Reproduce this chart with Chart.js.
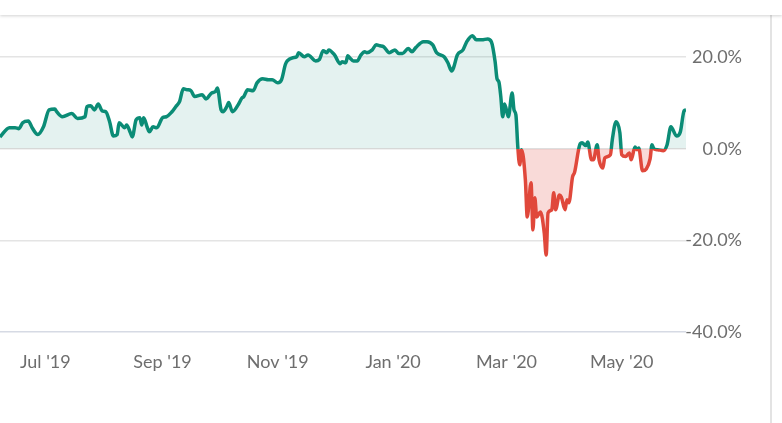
<!DOCTYPE html>
<html>
<head>
<meta charset="utf-8">
<script src="https://cdn.jsdelivr.net/npm/chart.js@4.4.0/dist/chart.umd.min.js"></script>
<style>
  html, body { margin: 0; padding: 0; background: #fff; }
  body { width: 782px; height: 423px; position: relative; overflow: hidden; }
  .cabecera { position: absolute; left: 0; top: 0; width: 782px; height: 15px; background: #fff;
              box-shadow: 0 1px 3px rgba(0,0,0,0.18); z-index: 2; }
  .borde { position: absolute; left: 770px; top: 0; width: 2px; height: 423px; background: #e3e3e3; }
  .grafico { position: absolute; left: 0; top: 0; width: 742px; height: 423px; }
</style>
</head>
<body>
<div class="cabecera"></div>
<div class="borde"></div>
<div class="grafico"><canvas id="myChart"></canvas></div>
<script>
// dias desde 2019-06-01
const dias = [
  6, 11, 14, 16, 18, 21, 23, 26, 29, 32,
  35, 36, 39, 44, 47, 51, 52, 54, 56, 58,
  60, 62, 64, 66, 68, 69, 72, 73, 75, 76,
  78, 80, 81, 82, 84, 85, 87, 89, 92, 94,
  97, 99, 101, 103, 105, 107, 109, 113, 115, 118,
  120, 121, 123, 124, 126, 127, 129, 132, 134, 135,
  137, 140, 142, 145, 148, 150, 153, 155, 157, 158,
  161, 163, 164, 167, 169, 173, 175, 177, 179, 180,
  183, 186, 187, 189, 190, 191, 193, 195, 197, 199,
  200, 203, 205, 207, 209, 212, 215, 217, 219, 222,
  224, 226, 230, 232, 235, 237, 241, 243, 245, 246,
  248, 251, 253, 256, 258, 261, 264, 266, 268, 269,
  270, 271, 272, 273, 275, 277, 278, 279, 280, 281,
  282, 284, 285, 287, 288, 289, 290, 292, 294, 295,
  296, 298, 299, 300, 302, 303, 305, 306, 307, 309,
  310, 313, 314, 316, 317, 319, 320, 322, 323, 325,
  326, 329, 330, 332, 334, 335, 337, 339, 340, 342,
  343, 344, 346, 348, 350, 351, 352, 354, 357, 359,
  361, 364, 366, 368, 369
];
// rendimiento en %
const rendimiento = [
  2.6, 4.6, 4.6, 4.4, 5.7, 6.1, 4.6, 3.1, 4.8, 8.5,
  8.7, 8.1, 7.0, 7.7, 6.6, 7.0, 9.2, 9.4, 8.5, 9.8,
  8.3, 8.1, 5.9, 2.8, 3.1, 5.7, 4.6, 5.2, 3.5, 2.6,
  6.3, 6.8, 5.2, 6.8, 4.6, 3.7, 4.8, 4.6, 6.8, 7.0,
  8.1, 9.2, 10.3, 13.1, 12.9, 12.7, 11.4, 11.8, 10.9, 12.2,
  12.5, 13.3, 8.5, 8.1, 9.2, 10.1, 8.1, 9.6, 11.1, 11.4,
  12.9, 12.7, 14.4, 15.3, 15.1, 15.1, 14.4, 15.1, 18.4, 19.2,
  19.9, 20.1, 21.0, 20.1, 20.5, 19.2, 19.5, 21.4, 21.0, 21.6,
  20.5, 18.6, 19.0, 18.8, 20.3, 19.9, 19.2, 19.2, 20.5, 21.2,
  21.0, 21.6, 22.7, 22.5, 22.3, 21.0, 21.6, 20.8, 20.8, 21.9,
  21.2, 22.1, 23.4, 23.4, 22.7, 21.0, 20.1, 18.8, 17.0, 17.7,
  20.5, 21.6, 23.4, 24.7, 23.8, 23.8, 24.0, 23.4, 19.0, 15.3,
  14.6, 11.4, 7.0, 9.8, 7.0, 12.2, 8.5, 7.4, 0.4, -3.5,
  -0.2, -6.8, -14.9, -7.4, -17.7, -10.7, -14.9, -13.8, -18.4, -23.2,
  -14.0, -13.3, -9.6, -13.3, -10.1, -10.5, -13.3, -11.1, -11.8, -6.1,
  -5.2, 1.1, 1.3, 0.7, 1.5, -2.4, -2.4, 0.9, -2.4, -4.2,
  -2.0, -1.3, 2.0, 5.9, 3.5, -1.3, -1.7, -0.9, -2.4, 0.4,
  -0.2, 0.2, -4.8, -4.4, -2.2, 0.9, 0.0, -0.2, -0.4, 0.9,
  4.8, 2.8, 3.7, 8.3, 8.5
];
const diasMes = [30, 92, 153, 214, 274, 335];
const etiquetasMes = ["Jul '19", "Sep '19", "Nov '19", "Jan '20", "Mar '20", "May '20"];
const ticksY = [-40, -20, 0, 20];

const verde = '#0b8c76';
const rojo = '#e0483b';

function colorLinea(ctx) {
  const chart = ctx.chart;
  const area = chart.chartArea;
  if (!area) return verde;
  const y0 = chart.scales.y.getPixelForValue(0);
  const f = Math.min(1, Math.max(0, (y0 - area.top) / (area.bottom - area.top)));
  const g = chart.ctx.createLinearGradient(0, area.top, 0, area.bottom);
  g.addColorStop(0, verde);
  g.addColorStop(f, verde);
  g.addColorStop(f, rojo);
  g.addColorStop(1, rojo);
  return g;
}

Chart.defaults.font.family = 'Lato';
Chart.defaults.font.size = 18;
Chart.defaults.color = '#6e6e6e';

new Chart(document.getElementById('myChart'), {
  type: 'line',
  data: {
    datasets: [{
      data: dias.map((d, i) => ({ x: d, y: rendimiento[i] })),
      borderColor: colorLinea,
      borderWidth: 3.5,
      pointRadius: 0,
      cubicInterpolationMode: 'monotone',
      fill: { target: { value: 0 }, above: 'rgba(11,140,118,0.11)', below: 'rgba(224,72,59,0.2)' }
    }]
  },
  options: {
    responsive: true,
    maintainAspectRatio: false,
    animation: false,
    layout: { padding: { top: 16, left: 0, right: 0, bottom: 0 } },
    plugins: { legend: { display: false }, tooltip: { enabled: false } },
    scales: {
      x: {
        type: 'linear',
        min: dias[0],
        max: dias[dias.length - 1],
        grid: { display: false },
        border: { display: false },
        afterBuildTicks: (axis) => { axis.ticks = diasMes.map(v => ({ value: v })); },
        afterFit: (axis) => { axis.height = 91; },
        ticks: {
          padding: 11,
          maxRotation: 0,
          autoSkip: false,
          callback: (v, i) => etiquetasMes[i]
        }
      },
      y: {
        position: 'right',
        min: -40,
        max: 29,
        grid: {
          drawTicks: false,
          color: (c) => c.tick && c.tick.value === -40 ? '#d6dae4' : '#e4e4e4',
          lineWidth: 1.5
        },
        border: { display: false },
        afterBuildTicks: (axis) => { axis.ticks = ticksY.map(v => ({ value: v })); },
        afterFit: (axis) => { axis.width = 56; },
        ticks: {
          crossAlign: 'far',
          padding: 0,
          callback: (v) => v.toFixed(1) + '%'
        }
      }
    }
  }
});
</script>
</body>
</html>
